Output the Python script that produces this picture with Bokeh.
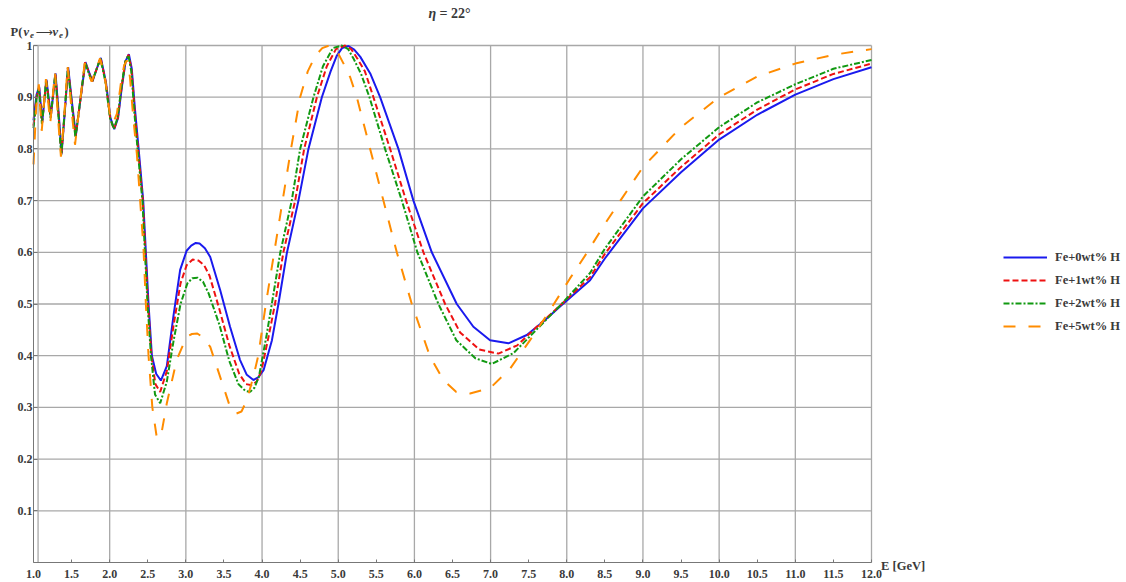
from bokeh.plotting import figure
from bokeh.models import Range1d, FixedTicker, Label, Legend, LegendItem, PrintfTickFormatter
from bokeh.embed import file_html
from bokeh.resources import INLINE

# ---------------- data ----------------
series_names = ["Fe+0wt% H", "Fe+1wt% H", "Fe+2wt% H", "Fe+5wt% H"]

e0 = [1.000, 1.040, 1.075, 1.115, 1.170, 1.228, 1.289, 1.330, 1.368, 1.410, 1.455, 1.505, 1.556, 1.620,
      1.682, 1.730, 1.774, 1.830, 1.884, 1.950, 2.010, 2.060, 2.110, 2.160, 2.210, 2.252, 2.290, 2.330,
      2.380, 2.440, 2.475, 2.510, 2.554, 2.610, 2.672, 2.750, 2.840, 2.925, 3.010, 3.070, 3.130, 3.180,
      3.250, 3.320, 3.450, 3.580, 3.710, 3.800, 3.887, 3.950, 4.020, 4.130, 4.215, 4.325, 4.478, 4.609,
      4.785, 4.900, 4.980, 5.050, 5.134, 5.210, 5.290, 5.420, 5.550, 5.790, 5.987, 6.228, 6.556, 6.774,
      6.993, 7.234, 7.475, 7.693, 7.912, 8.306, 8.500, 9.000, 9.500, 10.000, 10.500, 11.000, 11.500, 12.000]
p0 = [0.855, 0.905, 0.920, 0.852, 0.934, 0.864, 0.946, 0.870, 0.790, 0.870, 0.958, 0.890, 0.826, 0.900,
      0.968, 0.948, 0.931, 0.955, 0.976, 0.930, 0.860, 0.838, 0.860, 0.920, 0.970, 0.983, 0.955, 0.880,
      0.800, 0.700, 0.600, 0.500, 0.400, 0.365, 0.352, 0.380, 0.480, 0.566, 0.603, 0.613, 0.618, 0.617,
      0.608, 0.591, 0.527, 0.456, 0.392, 0.363, 0.353, 0.358, 0.372, 0.430, 0.500, 0.598, 0.700, 0.800,
      0.900, 0.950, 0.980, 0.995, 0.999, 0.992, 0.978, 0.946, 0.900, 0.800, 0.700, 0.600, 0.500, 0.456,
      0.430, 0.424, 0.440, 0.466, 0.495, 0.546, 0.588, 0.685, 0.755, 0.818, 0.866, 0.905, 0.935, 0.958]

e1 = [1.000, 1.040, 1.073, 1.113, 1.168, 1.226, 1.287, 1.328, 1.366, 1.408, 1.453, 1.503, 1.553, 1.618,
      1.679, 1.728, 1.771, 1.828, 1.881, 1.947, 2.007, 2.057, 2.107, 2.157, 2.207, 2.249, 2.287, 2.327,
      2.375, 2.435, 2.468, 2.503, 2.548, 2.600, 2.663, 2.750, 2.840, 2.930, 3.010, 3.090, 3.165, 3.240,
      3.310, 3.440, 3.570, 3.700, 3.790, 3.866, 3.930, 3.990, 4.090, 4.170, 4.280, 4.435, 4.553, 4.720,
      4.850, 4.970, 5.090, 5.170, 5.250, 5.350, 5.462, 5.681, 5.891, 6.118, 6.403, 6.600, 6.850, 7.102,
      7.350, 7.600, 7.912, 8.306, 8.500, 9.000, 9.500, 10.000, 10.500, 11.000, 11.500, 12.000]
p1 = [0.845, 0.900, 0.918, 0.850, 0.933, 0.862, 0.945, 0.868, 0.789, 0.868, 0.958, 0.888, 0.824, 0.898,
      0.968, 0.947, 0.930, 0.954, 0.976, 0.930, 0.859, 0.838, 0.860, 0.920, 0.970, 0.982, 0.953, 0.875,
      0.795, 0.700, 0.600, 0.500, 0.400, 0.345, 0.330, 0.370, 0.460, 0.540, 0.575, 0.586, 0.584, 0.575,
      0.555, 0.490, 0.420, 0.365, 0.345, 0.343, 0.350, 0.370, 0.440, 0.500, 0.600, 0.700, 0.800, 0.900,
      0.960, 0.993, 1.000, 0.993, 0.975, 0.950, 0.900, 0.800, 0.700, 0.600, 0.500, 0.445, 0.412, 0.404,
      0.420, 0.455, 0.497, 0.552, 0.597, 0.695, 0.765, 0.828, 0.876, 0.915, 0.945, 0.965]

e2 = [1.000, 1.040, 1.071, 1.111, 1.166, 1.224, 1.285, 1.326, 1.364, 1.406, 1.451, 1.501, 1.551, 1.616,
      1.676, 1.726, 1.768, 1.825, 1.878, 1.944, 2.004, 2.054, 2.104, 2.154, 2.204, 2.246, 2.284, 2.324,
      2.372, 2.430, 2.463, 2.497, 2.542, 2.595, 2.663, 2.750, 2.840, 2.930, 3.020, 3.085, 3.152, 3.225,
      3.300, 3.440, 3.570, 3.690, 3.780, 3.844, 3.900, 3.960, 4.060, 4.128, 4.240, 4.390, 4.500, 4.675,
      4.800, 4.930, 5.047, 5.130, 5.200, 5.300, 5.410, 5.615, 5.835, 6.039, 6.315, 6.550, 6.800, 7.016,
      7.300, 7.600, 7.912, 8.306, 8.500, 9.000, 9.500, 10.000, 10.500, 11.000, 11.500, 12.000]
p2 = [0.840, 0.898, 0.917, 0.848, 0.932, 0.860, 0.944, 0.866, 0.788, 0.866, 0.957, 0.887, 0.822, 0.897,
      0.967, 0.946, 0.930, 0.953, 0.975, 0.930, 0.860, 0.839, 0.860, 0.920, 0.968, 0.981, 0.950, 0.870,
      0.790, 0.700, 0.600, 0.500, 0.400, 0.325, 0.308, 0.350, 0.430, 0.500, 0.540, 0.550, 0.551, 0.543,
      0.520, 0.460, 0.390, 0.345, 0.332, 0.330, 0.338, 0.360, 0.440, 0.500, 0.600, 0.700, 0.800, 0.900,
      0.960, 0.995, 1.000, 0.993, 0.975, 0.945, 0.900, 0.800, 0.700, 0.600, 0.500, 0.430, 0.395, 0.384,
      0.405, 0.450, 0.497, 0.560, 0.607, 0.708, 0.780, 0.842, 0.890, 0.925, 0.955, 0.972]

e5 = [1.000, 1.035, 1.070, 1.108, 1.163, 1.220, 1.282, 1.322, 1.360, 1.402, 1.447, 1.497, 1.545, 1.610,
      1.672, 1.720, 1.763, 1.820, 1.873, 1.940, 2.000, 2.045, 2.095, 2.145, 2.190, 2.226, 2.265, 2.310,
      2.357, 2.400, 2.443, 2.475, 2.510, 2.560, 2.620, 2.680, 2.750, 2.880, 3.010, 3.080, 3.150, 3.230,
      3.320, 3.450, 3.580, 3.660, 3.730, 3.800, 3.887, 3.950, 4.050, 4.160, 4.270, 4.380, 4.500, 4.600,
      4.700, 4.790, 4.880, 4.980, 5.070, 5.156, 5.244, 5.419, 5.593, 5.769, 5.966, 6.206, 6.380, 6.550,
      6.730, 6.993, 7.256, 7.518, 7.780, 8.040, 8.260, 8.500, 9.000, 9.500, 10.000, 10.500, 11.000,
      11.500, 12.000]
p5 = [0.770, 0.880, 0.925, 0.835, 0.935, 0.850, 0.948, 0.860, 0.785, 0.860, 0.960, 0.880, 0.808, 0.890,
      0.966, 0.945, 0.930, 0.953, 0.975, 0.935, 0.870, 0.850, 0.868, 0.925, 0.962, 0.971, 0.940, 0.860,
      0.790, 0.700, 0.610, 0.500, 0.400, 0.300, 0.240, 0.250, 0.308, 0.392, 0.437, 0.442, 0.443, 0.435,
      0.417, 0.359, 0.301, 0.288, 0.292, 0.314, 0.360, 0.400, 0.500, 0.600, 0.700, 0.800, 0.900, 0.950,
      0.980, 0.995, 1.000, 0.990, 0.965, 0.939, 0.900, 0.800, 0.700, 0.600, 0.500, 0.398, 0.353, 0.330,
      0.327, 0.337, 0.375, 0.430, 0.488, 0.549, 0.598, 0.655, 0.765, 0.842, 0.900, 0.940, 0.965, 0.982,
      0.993]

x_ticks = [1.0, 1.5, 2.0, 2.5, 3.0, 3.5, 4.0, 4.5, 5.0, 5.5, 6.0, 6.5, 7.0, 7.5, 8.0, 8.5, 9.0, 9.5,
           10.0, 10.5, 11.0, 11.5, 12.0]
y_ticks = [0.1, 0.2, 0.3, 0.4, 0.5, 0.6, 0.7, 0.8, 0.9, 1.0]
x_grid = [1.06, 2, 3, 4, 5, 6, 7, 8, 9, 10, 11, 12]
y_grid = [0.1, 0.2, 0.3, 0.4, 0.5, 0.6, 0.7, 0.8, 0.9, 1.0]
x_span = (1.0, 12.0)
y_span = (0.0, 1.0)

title_parts = ["η", "= 22°"]
x_label = "E [GeV]"
y_label_parts = ["P(", "ν", "e", "⟶", "ν", "e", ")"]

# ---------------- layout: frame covers the whole canvas ----------------
W, H = 1126, 582
LEFT_PX, BOTTOM_PX = 33.0, 562.0          # pixel of E=1, P=0
PX_PER_E, PX_PER_P = 838.0 / 11.0, 517.0
x0 = x_span[0] - LEFT_PX / PX_PER_E
x1 = x0 + W / PX_PER_E
y0 = -(H - BOTTOM_PX) / PX_PER_P
y1 = BOTTOM_PX / PX_PER_P

FONT = "Liberation Serif"
TXT = "#3a3a3a"
GRID = "#a8a8a8"
AXC = "#777777"

p = figure(width=W, height=H, x_range=Range1d(x0, x1), y_range=Range1d(y0, y1),
           output_backend="svg", toolbar_location=None, min_border=0)
p.background_fill_color = "white"
p.border_fill_color = "white"
p.outline_line_color = None
p.xgrid.visible = False
p.ygrid.visible = False

# grid lines (drawn in data space, limited to the plotted box)
p.segment(x0=x_grid, y0=[y_span[0]] * len(x_grid), x1=x_grid, y1=[y_span[1]] * len(x_grid),
          line_color=GRID, line_width=1.3)
p.segment(x0=[x_span[0]] * len(y_grid), y0=y_grid, x1=[x_span[1]] * len(y_grid), y1=y_grid,
          line_color=GRID, line_width=1.3)

# axes placed at fixed data locations
p.xaxis.fixed_location = y_span[0]
p.xaxis.bounds = x_span
p.xaxis.ticker = FixedTicker(ticks=x_ticks)
p.xaxis.formatter = PrintfTickFormatter(format="%.1f")
p.xaxis.major_tick_in = 3
p.xaxis.major_label_standoff = 7
p.yaxis.fixed_location = x_span[0]
p.yaxis.bounds = y_span
p.yaxis.ticker = FixedTicker(ticks=y_ticks)
p.yaxis.formatter = PrintfTickFormatter(format="%.1f")
p.yaxis.major_label_overrides = {1: "1"}
p.yaxis.major_tick_in = 4
p.yaxis.major_label_standoff = 1
for ax in (p.xaxis, p.yaxis):
    ax.axis_line_color = AXC
    ax.axis_line_width = 1
    ax.major_tick_line_color = AXC
    ax.major_tick_out = 0
    ax.minor_tick_line_color = None
    ax.major_label_text_font = FONT
    ax.major_label_text_font_style = "bold"
    ax.major_label_text_font_size = "12px"
    ax.major_label_text_color = TXT

colors = ["#1a1aee", "#ee1111", "#119911", "#ff8c00"]
dashes = ["solid", "6 3", "6 2 2 2", "12 13"]
xs = [e0, e1, e2, e5]
ys = [p0, p1, p2, p5]
rends = []
for x, y, c, d in zip(xs, ys, colors, dashes):
    r = p.line(x, y, line_color=c, line_width=2, line_dash=d)
    rends.append(r)

legend = Legend(items=[LegendItem(label=n, renderers=[r]) for n, r in zip(series_names, rends)],
                location=(1003, 246))
legend.border_line_alpha = 0
legend.background_fill_alpha = 0
legend.label_text_font = FONT
legend.label_text_font_style = "bold"
legend.label_text_font_size = "12.5px"
legend.label_text_color = TXT
legend.glyph_width = 44
legend.glyph_height = 20
legend.spacing = 3
legend.padding = 0
legend.margin = 0
legend.label_standoff = 8
p.add_layout(legend)

# title: italic eta, then the rest
p.add_layout(Label(x=6.185, y=1.062, text=title_parts[0], text_align="left", text_baseline="middle",
                   text_font=FONT, text_font_style="bold italic", text_font_size="14px", text_color=TXT))
p.add_layout(Label(x=6.330, y=1.062, text=title_parts[1], text_align="left", text_baseline="middle",
                   text_font=FONT, text_font_style="bold", text_font_size="14px", text_color=TXT))

# y label  P(nu_e -> nu_e), built from pieces
offs = [0, 13.0, 19.5, 25.0, 42.0, 48.5, 54.0]
dys = [0, 0, -3, 0, 0, -3, 0]
styles = ["bold", "bold italic", "bold italic", "normal", "bold italic", "bold italic", "bold"]
sizes = ["12.5px", "12.5px", "9px", "12px", "12.5px", "9px", "12.5px"]
fonts = [FONT, FONT, FONT, "DejaVu Sans", FONT, FONT, FONT]
for t, o, dy, st, sz, fnt in zip(y_label_parts, offs, dys, styles, sizes, fonts):
    p.add_layout(Label(x=0.698, y=1.027, x_offset=o, y_offset=dy, text=t, text_align="left",
                       text_baseline="middle", text_font=fnt, text_font_style=st,
                       text_font_size=sz, text_color=TXT))

p.add_layout(Label(x=12.126, y=-0.0077, text=x_label, text_align="left", text_baseline="middle",
                   text_font=FONT, text_font_style="bold", text_font_size="12.5px", text_color=TXT))

open("out.html", "w").write(file_html(p, INLINE))
